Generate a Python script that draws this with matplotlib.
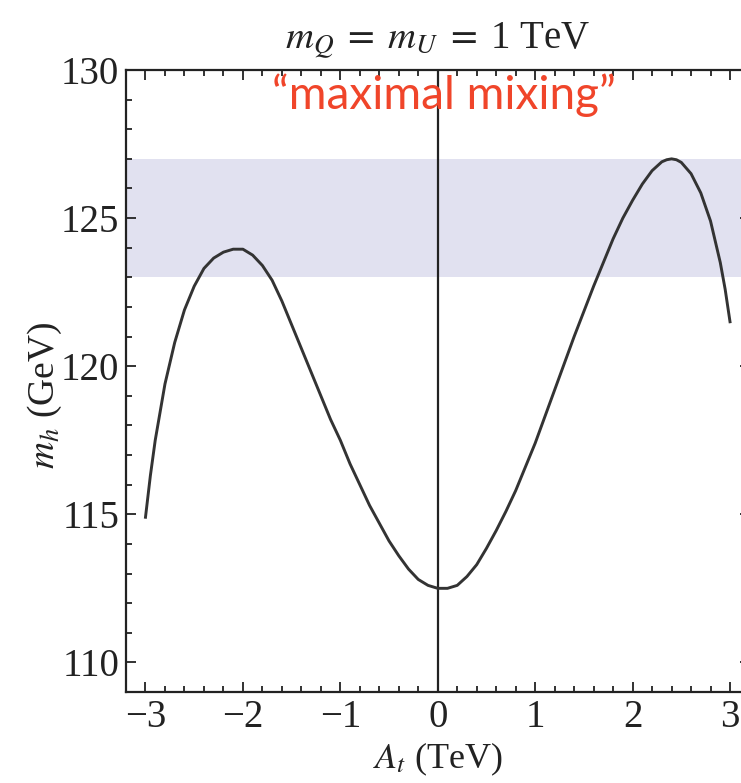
import matplotlib
matplotlib.use("Agg")
import matplotlib.pyplot as plt
from matplotlib.ticker import MultipleLocator

# Data
A_t = [-3.0, -2.95, -2.9, -2.8, -2.7, -2.6, -2.5, -2.4, -2.3, -2.2, -2.1, -2.0, -1.9,
       -1.8, -1.7, -1.6, -1.5, -1.4, -1.3, -1.2, -1.1, -1.0, -0.9, -0.8, -0.7, -0.6,
       -0.5, -0.4, -0.3, -0.2, -0.1, 0.0, 0.1, 0.2, 0.3, 0.4, 0.5, 0.6, 0.7, 0.8, 0.9,
       1.0, 1.1, 1.2, 1.3, 1.4, 1.5, 1.6, 1.7, 1.8, 1.9, 2.0, 2.1, 2.2, 2.3, 2.35, 2.4,
       2.45, 2.5, 2.6, 2.7, 2.8, 2.9, 2.95, 3.0]
m_h = [114.9, 116.3, 117.5, 119.4, 120.8, 121.9, 122.7, 123.3, 123.65, 123.85, 123.95,
       123.95, 123.75, 123.4, 122.9, 122.2, 121.4, 120.6, 119.8, 119.0, 118.2, 117.5,
       116.7, 116.0, 115.3, 114.7, 114.1, 113.6, 113.15, 112.8, 112.6, 112.5, 112.5,
       112.6, 112.9, 113.3, 113.85, 114.45, 115.1, 115.8, 116.6, 117.4, 118.3, 119.2,
       120.1, 121.0, 121.85, 122.7, 123.5, 124.3, 125.0, 125.6, 126.15, 126.6, 126.9,
       126.97, 127.0, 126.97, 126.88, 126.5, 125.85, 124.9, 123.5, 122.6, 121.5]
band = [123.0, 127.0]
x_ticks = [-3, -2, -1, 0, 1, 2, 3]
y_ticks = [110, 115, 120, 125, 130]

plt.rcParams['mathtext.fontset'] = 'stix'
plt.rcParams['font.family'] = ['Liberation Serif', 'DejaVu Serif']

fig = plt.figure(figsize=(7.41, 7.83), dpi=100)
ax = fig.add_axes([126/741, 1-692/783, (749.5-126)/741, (692-70)/783])

ax.axhspan(band[0], band[1], color='#e1e1f0', lw=0, zorder=0)
ax.axvline(0, color='#222222', lw=1.6, zorder=1)
ax.plot(A_t, m_h, color='#333333', lw=2.1, zorder=2, solid_joinstyle='round')

ax.set_xlim(-3.2, 3.2)
ax.set_ylim(109, 130)
ax.set_xticks(x_ticks)
ax.set_xticklabels(['\u22123', '\u22122', '\u22121', '0', '1', '2', '3'])
ax.set_yticks(y_ticks)
ax.xaxis.set_minor_locator(MultipleLocator(0.2))
ax.yaxis.set_minor_locator(MultipleLocator(1))
ax.tick_params(which='both', direction='in', top=True, right=True, labelsize=28,
               width=1.3, colors='#222222', labelcolor='#222222')
ax.tick_params(which='major', length=7, pad=5)
ax.tick_params(which='minor', length=4)
for s in ax.spines.values():
    s.set_linewidth(1.6)
    s.set_color('#222222')

ax.set_xlabel(r'$A_t$ (TeV)', fontsize=26, color='#222222', va='center')
ax.xaxis.set_label_coords(0.5, -0.108)
ax.set_ylabel(r'$m_h$ (GeV)', fontsize=27, color='#222222', va='center')
ax.yaxis.set_label_coords(-0.13, 0.477)
ax.set_title(r'$m_Q\;=\;m_U\;=\;$1 TeV', fontsize=28, pad=16, color='#222222')

ax.text(0.06, 129.15, '\u201cmaximal mixing\u201d', color='#f0452a', fontsize=33,
        family='Lato', ha='center', va='center')

fig.savefig('out.png', dpi=100)
